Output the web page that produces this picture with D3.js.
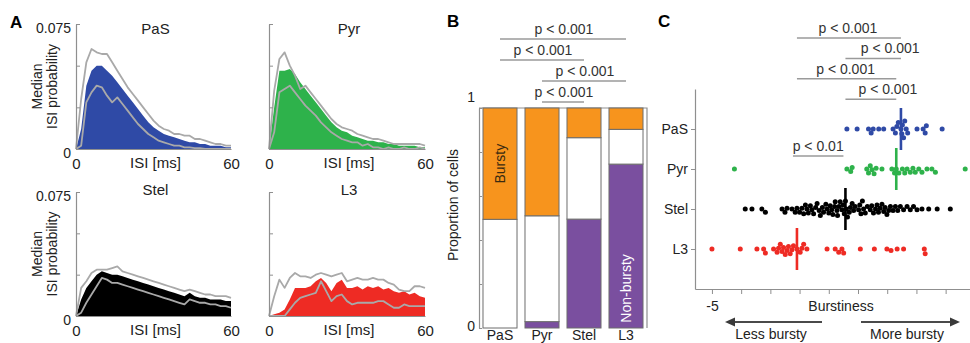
<!DOCTYPE html>
<html><head><meta charset="utf-8">
<script src="https://cdn.jsdelivr.net/npm/d3@7"></script>
<style>
html,body{margin:0;padding:0;background:#fff;}
svg{display:block;font-family:"Liberation Sans",Arial,sans-serif;}
</style></head><body>
<svg id="fig" width="970" height="343"></svg>
<script>
// ---------- Panel A: ISI distributions (2 ms bins, 0–60 ms) ----------
const isiBins = d3.range(0, 61, 2);

const pasMedian = [0,0.012,0.038,0.047,0.050,0.050,0.047,0.044,0.040,0.036,0.032,0.028,0.024,0.020,0.016,0.013,0.011,0.009,0.008,0.007,0.006,0.005,0.004,0.004,0.003,0.003,0.002,0.002,0.002,0.001,0.001];
const pasUpper  = [0,0.030,0.052,0.060,0.058,0.057,0.057,0.052,0.047,0.042,0.037,0.033,0.029,0.025,0.021,0.017,0.014,0.012,0.011,0.009,0.009,0.008,0.008,0.006,0.006,0.005,0.004,0.003,0.003,0.002,0.002];
const pasLower  = [0,0.002,0.028,0.034,0.038,0.037,0.032,0.028,0.031,0.027,0.023,0.019,0.015,0.012,0.009,0.007,0.005,0.004,0.003,0.002,0.002,0.001,0.001,0.0005,0.0005,0,0,0,0,0,0];

const pyrMedian = [0,0.025,0.047,0.047,0.048,0.045,0.040,0.036,0.032,0.028,0.024,0.020,0.016,0.013,0.011,0.010,0.008,0.007,0.006,0.005,0.005,0.004,0.004,0.003,0.003,0.002,0.002,0.002,0.002,0.001,0.001];
const pyrUpper  = [0,0.035,0.054,0.058,0.050,0.044,0.036,0.038,0.034,0.030,0.026,0.022,0.018,0.015,0.013,0.012,0.011,0.009,0.008,0.007,0.006,0.006,0.005,0.004,0.003,0.003,0.003,0.003,0.003,0.003,0.002];
const pyrLower  = [0,0.010,0.034,0.036,0.038,0.034,0.030,0.026,0.023,0.020,0.016,0.013,0.010,0.008,0.006,0.005,0.004,0.004,0.002,0.003,0.001,0.001,0,0.001,0,0,0.001,0,0,0.001,0];

const stelMedian = [0,0.010,0.017,0.021,0.025,0.027,0.026,0.025,0.025,0.024,0.023,0.022,0.021,0.020,0.019,0.018,0.017,0.016,0.015,0.014,0.013,0.012,0.014,0.012,0.011,0.011,0.010,0.010,0.010,0.009,0.009];
const stelUpper  = [0,0.017,0.021,0.026,0.028,0.028,0.028,0.029,0.030,0.027,0.026,0.025,0.024,0.023,0.022,0.021,0.020,0.019,0.018,0.017,0.016,0.015,0.016,0.015,0.014,0.013,0.013,0.012,0.012,0.012,0.011];
const stelLower  = [0,0.002,0.008,0.013,0.018,0.023,0.022,0.020,0.020,0.019,0.018,0.017,0.016,0.015,0.014,0.013,0.012,0.011,0.010,0.009,0.008,0.007,0.010,0.009,0.008,0.008,0.007,0.007,0.006,0.006,0.005];

const l3Median = [0,0.001,0.002,0.004,0.010,0.017,0.017,0.017,0.018,0.021,0.023,0.020,0.015,0.020,0.022,0.017,0.017,0.018,0.016,0.018,0.017,0.018,0.016,0.017,0.015,0.014,0.015,0.013,0.014,0.012,0.011];
const l3Upper  = [0,0.012,0.022,0.017,0.023,0.026,0.024,0.024,0.023,0.025,0.026,0.025,0.024,0.025,0.026,0.021,0.022,0.023,0.022,0.022,0.023,0.022,0.022,0.020,0.019,0.016,0.015,0.015,0.018,0.018,0.017];
const l3Lower  = [0,0,0,0,0.004,0.008,0.011,0.012,0.013,0.014,0.021,0.015,0.009,0.012,0.013,0.009,0.007,0.008,0.008,0.008,0.008,0.009,0.009,0.007,0.005,0.005,0.007,0.006,0.006,0.006,0.006];

const isiYTicks = [0, 0.025, 0.05, 0.075];
const isiXTicks = [0, 60];

// ---------- Panel B: proportion of cells ----------
const cellTypes = ["PaS", "Pyr", "Stel", "L3"];
const propNonBursty = [0, 0.029, 0.495, 0.745];
const propMiddle    = [0.494, 0.481, 0.370, 0.158];
const propBursty    = [0.506, 0.490, 0.135, 0.097];
const propTicks = [0, 0.2, 0.4, 0.6, 0.8, 1];

// ---------- Panel C: burstiness per cell ----------
const burstPaS = [-0.38,-0.03,0.36,0.45,0.52,0.71,0.88,1.2,1.28,1.33,1.38,1.47,1.5,1.52,1.56,1.6,1.65,1.7,2.02,2.23,2.3,2.34,2.88];
const burstPyr = [-4.23,-0.38,-0.25,-0.2,0.3,0.36,0.42,0.48,0.55,0.62,0.82,1.16,1.25,1.31,1.4,1.52,1.6,1.68,1.79,1.88,1.96,2.08,2.19,2.36,2.53,2.65,3.67];
const burstStel = [-3.86,-3.63,-3.29,-3.17,-2.6,-2.5,-2.43,-2.26,-2.15,-2.09,-2.0,-1.92,-1.86,-1.8,-1.75,-1.7,-1.63,-1.58,-1.52,-1.45,-1.4,-1.33,-1.29,-1.22,-1.18,-1.1,-1.06,-1.0,-0.95,-0.9,-0.86,-0.8,-0.78,-0.72,-0.7,-0.65,-0.61,-0.55,-0.51,-0.47,
  -0.43,
  -0.4,-0.36,-0.3,-0.26,-0.2,-0.15,-0.1,0.02,0.06,0.1,0.15,0.19,0.25,0.32,0.42,0.47,0.53,0.6,0.65,0.7,0.76,0.82,0.88,0.93,0.99,1.05,1.11,1.2,1.28,1.36,1.45,1.56,1.68,1.79,1.9,2.02,2.19,2.42,2.71,3.16];
const burstL3 = [-5,-4.03,-3.46,-3.23,-3.17,-2.89,-2.77,-2.72,-2.66,-2.6,-2.55,-2.49,-2.43,-2.38,-2.32,-2.26,-2.21,-2.09,-1.98,-1.92,-1.86,-1.75,-1.06,-0.78,-0.66,-0.55,-0.49,0.08,0.56,0.99,1.13,1.34,1.56,2.27,2.3];
const burstTicks = d3.range(-5, 6);

// significance brackets
const sigB = [["PaS","L3","p < 0.001"],["PaS","Stel","p < 0.001"],["Pyr","L3","p < 0.001"],["Pyr","Stel","p < 0.001"]];
const sigC = [["L3","PaS","p < 0.001"],["Stel","PaS","p < 0.001"],["L3","Pyr","p < 0.001"],["Stel","Pyr","p < 0.001"]];
const sigCLow = ["L3","Stel","p < 0.01"];

// ---------- drawing ----------
const svg = d3.select("#fig");
const ink = "#222";
const axisGrey = "#8f8f8f";
const colors = {PaS:"#2f4aa6", Pyr:"#2eb24b", Stel:"#000000", L3:"#ee2b24"};
const orange = "#f7941d", purple = "#7a4f9f";

function styleAxis(g, size) {
  g.select(".domain").attr("stroke", axisGrey).attr("stroke-width", 1.2);
  g.selectAll(".tick line").attr("stroke", axisGrey);
  g.selectAll(".tick text").attr("fill", ink).attr("font-size", size).attr("font-family", null);
  g.attr("font-family", null);
}

// panel letters
[["A",10,28],["B",447,27],["C",658,27]].forEach(([t,x,y]) =>
  svg.append("text").attr("x",x).attr("y",y).attr("font-size",17).attr("font-weight","bold").attr("fill","#000").text(t));

// ----- A -----
const panelsA = [
  {name:"PaS",  med:pasMedian,  up:pasUpper,  lo:pasLower,  xr:[76,231],  yr:[149,24],  title:29,  left:true},
  {name:"Pyr",  med:pyrMedian,  up:pyrUpper,  lo:pyrLower,  xr:[269,425], yr:[149,24],  title:29,  left:false},
  {name:"Stel", med:stelMedian, up:stelUpper, lo:stelLower, xr:[76,231],  yr:[316,192], title:190, left:true},
  {name:"L3",   med:l3Median,   up:l3Upper,   lo:l3Lower,   xr:[269,425], yr:[316,192], title:190, left:false}
];

panelsA.forEach(p => {
  const x = d3.scaleLinear().domain([0,60]).range(p.xr);
  const y = d3.scaleLinear().domain([0,0.075]).range(p.yr);
  const g = svg.append("g");
  const area = d3.area().x((d,i) => x(isiBins[i])).y0(y(0)).y1(d => y(d));
  g.append("path").datum(p.med).attr("d", area).attr("fill", colors[p.name]);
  const line = d3.line().x((d,i) => x(isiBins[i])).y(d => y(d));
  [p.up, p.lo].forEach(s => g.append("path").datum(s).attr("d", line)
    .attr("fill","none").attr("stroke","#a9a9a9").attr("stroke-width",1.8).attr("stroke-linejoin","round"));

  const ya = g.append("g").attr("transform",`translate(${p.xr[0]},0)`)
    .call(d3.axisLeft(y).tickValues(isiYTicks).tickSizeInner(-4).tickSizeOuter(0).tickPadding(5)
      .tickFormat(d => p.left && (d === 0 || d === 0.075) ? (d === 0 ? "0" : "0.075") : ""));
  styleAxis(ya, 14);
  ya.selectAll(".tick text").attr("dy","0.58em");

  const xa = g.append("g").attr("transform",`translate(0,${p.yr[0]})`)
    .call(d3.axisBottom(x).tickValues(isiXTicks).tickSize(0).tickPadding(9).tickFormat(d3.format("d")));
  styleAxis(xa, 15);

  g.append("text").attr("x", (p.xr[0]+p.xr[1])/2 + 2).attr("y", p.yr[0] + 19)
    .attr("text-anchor","middle").attr("font-size",15).attr("fill",ink).text("ISI [ms]");
  g.append("text").attr("x", (p.xr[0]+p.xr[1])/2 + 2).attr("y", p.title + 5)
    .attr("text-anchor","middle").attr("font-size",15).attr("fill",ink).text(p.name);

  if (p.left) {
    const cy = (p.yr[0] + p.yr[1]) / 2;
    [["Median",42],["ISI probability",57]].forEach(([t,bx]) =>
      g.append("text").attr("transform",`translate(${bx},${cy}) rotate(-90)`)
        .attr("text-anchor","middle").attr("font-size",14).attr("fill",ink).text(t));
  }
});

// ----- B -----
const xB = d3.scaleBand().domain(cellTypes).range([479,647]).paddingInner(0.19).paddingOuter(0.095);
const yB = d3.scaleLinear().domain([0,1]).range([328,108]);
const stackRows = cellTypes.map((c,i) => ({type:c, non:propNonBursty[i], mid:propMiddle[i], burst:propBursty[i]}));
const stackB = d3.stack().keys(["non","mid","burst"])(stackRows);
const fillB = {non:purple, mid:"#ffffff", burst:orange};
const gB = svg.append("g");

// frame
gB.append("path").attr("d",`M${xB.range()[0]},${yB(1)}H${xB.range()[1]}V${yB(0)}`)
  .attr("fill","none").attr("stroke",axisGrey).attr("stroke-width",1.2);

stackB.forEach(layer => {
  gB.selectAll(null).data(layer).join("rect")
    .attr("x", d => xB(d.data.type)).attr("width", xB.bandwidth())
    .attr("y", d => yB(d[1])).attr("height", d => Math.max(0, yB(d[0]) - yB(d[1])))
    .attr("fill", fillB[layer.key]).attr("stroke", "#6d6d6d").attr("stroke-width", 1);
});

const yaB = gB.append("g").attr("transform",`translate(${xB.range()[0]},0)`)
  .call(d3.axisLeft(yB).tickValues(propTicks).tickSizeInner(-3).tickSizeOuter(0).tickPadding(4)
    .tickFormat(d => d === 0 || d === 1 ? String(d) : ""));
styleAxis(yaB, 14);
yaB.selectAll(".tick text").filter(d => d === 1).attr("dy","-0.45em");
yaB.selectAll(".tick text").filter(d => d === 0).attr("dy","0.2em");

gB.append("g").selectAll("text").data(cellTypes).join("text")
  .attr("x", d => xB(d) + xB.bandwidth()/2).attr("y", 340)
  .attr("text-anchor","middle").attr("font-size",14).attr("fill",ink).text(d => d);

gB.append("text").attr("transform",`translate(458,205) rotate(-90)`)
  .attr("text-anchor","middle").attr("font-size",14).attr("fill",ink).text("Proportion of cells");
gB.append("text").attr("transform",`translate(${xB("PaS")+xB.bandwidth()/2+5},${yB(1-propBursty[0]/2)}) rotate(-90)`)
  .attr("text-anchor","middle").attr("font-size",14).attr("fill","#3a2a10").text("Bursty");
gB.append("text").attr("transform",`translate(${xB("L3")+xB.bandwidth()/2+5},${yB(0.18)}) rotate(-90)`)
  .attr("text-anchor","middle").attr("font-size",14).attr("fill","#ffffff").text("Non-bursty");

sigB.forEach(([a,b,label], i) => {
  const ly = 39 + 21 * i;
  const x1 = xB(a) + xB.bandwidth()/2, x2 = xB(b) + xB.bandwidth()/2;
  gB.append("line").attr("x1",x1).attr("x2",x2).attr("y1",ly).attr("y2",ly)
    .attr("stroke","#9a9a9a").attr("stroke-width",1.5);
  gB.append("text").attr("x",(x1+x2)/2+1).attr("y",ly-5).attr("text-anchor","middle")
    .attr("font-size",14).attr("fill","#333").text(label);
});

// ----- C -----
const xC = d3.scaleLinear().domain([-5.58,5.58]).range([695,1021]);
const yC = d3.scalePoint().domain(cellTypes).range([89,289]).padding(1);
const gC = svg.append("g");
const burstData = {PaS:burstPaS, Pyr:burstPyr, Stel:burstStel, L3:burstL3};

const xaC = gC.append("g").attr("transform","translate(0,289)")
  .call(d3.axisBottom(xC).tickValues(burstTicks).tickSizeInner(5).tickSizeOuter(0).tickPadding(7)
    .tickFormat(d => d === -5 ? "-5" : ""));
styleAxis(xaC, 14);
const yaC = gC.append("g").attr("transform","translate(695,0)")
  .call(d3.axisLeft(yC).tickSizeInner(4).tickSizeOuter(0).tickPadding(3));
styleAxis(yaC, 14);

// beeswarm layout so dots in each row do not sit on top of each other
function swarm(values, r) {
  const pts = values.map(v => ({v, px: xC(v)})).sort((a,b) => a.px - b.px);
  const placed = [];
  pts.forEach(p => {
    let off = 0;
    for (let k = 0; k < 80; k++) {
      const o = (k % 2 ? 1 : -1) * Math.ceil(k/2) * 0.8;
      if (placed.every(q => Math.hypot(q.px - p.px, q.off - o) >= 2*r*0.85)) { off = o; break; }
    }
    p.off = off; placed.push(p);
  });
  return pts;
}

const medians = {};
cellTypes.forEach(c => {
  const vals = burstData[c];
  medians[c] = d3.median(vals);
  const pts = swarm(vals, 2.5);
  gC.append("g").selectAll("circle").data(pts).join("circle")
    .attr("cx", d => d.px).attr("cy", d => yC(c) + d.off).attr("r", 2.5).attr("fill", colors[c]);
  gC.append("line").attr("x1", xC(medians[c])).attr("x2", xC(medians[c]))
    .attr("y1", yC(c) - 21).attr("y2", yC(c) + 21)
    .attr("stroke", colors[c]).attr("stroke-width", 2.6);
});

sigC.forEach(([a,b,label], i) => {
  const ly = 38 + 20.4 * i;
  const x1 = xC(medians[a]), x2 = xC(medians[b]);
  gC.append("line").attr("x1",x1).attr("x2",x2).attr("y1",ly).attr("y2",ly)
    .attr("stroke","#9a9a9a").attr("stroke-width",1.5);
  gC.append("text").attr("x",(x1+x2)/2 - 1 + (i % 2 ? 18 : 0)).attr("y",ly-5).attr("text-anchor","middle")
    .attr("font-size",14).attr("fill","#333").text(label);
});
{
  const [a,b,label] = sigCLow;
  const ly = 156;
  const x1 = xC(medians[a]) - 4, x2 = xC(medians[b]) - 2;
  gC.append("line").attr("x1",x1).attr("x2",x2).attr("y1",ly).attr("y2",ly)
    .attr("stroke","#9a9a9a").attr("stroke-width",1.5);
  gC.append("text").attr("x",(x1+x2)/2).attr("y",ly-5).attr("text-anchor","middle")
    .attr("font-size",14).attr("fill","#333").text(label);
}

gC.append("text").attr("x",841).attr("y",311).attr("text-anchor","middle")
  .attr("font-size",14).attr("fill",ink).text("Burstiness");

// direction arrows
const arrowY = 322;
function arrow(xFrom, xTo) {
  const dir = Math.sign(xTo - xFrom);
  gC.append("line").attr("x1",xFrom).attr("x2",xTo - dir*8).attr("y1",arrowY).attr("y2",arrowY)
    .attr("stroke","#4a4a4a").attr("stroke-width",1.8);
  gC.append("path").attr("d",`M${xTo},${arrowY}L${xTo-dir*10},${arrowY-4.5}L${xTo-dir*10},${arrowY+4.5}Z`)
    .attr("fill","#3a3a3a");
}
arrow(822, 725);
arrow(861, 960);
gC.append("text").attr("x",771).attr("y",339).attr("text-anchor","middle")
  .attr("font-size",14).attr("fill",ink).text("Less bursty");
gC.append("text").attr("x",907).attr("y",339).attr("text-anchor","middle")
  .attr("font-size",14).attr("fill",ink).text("More bursty");
</script>
</body></html>
